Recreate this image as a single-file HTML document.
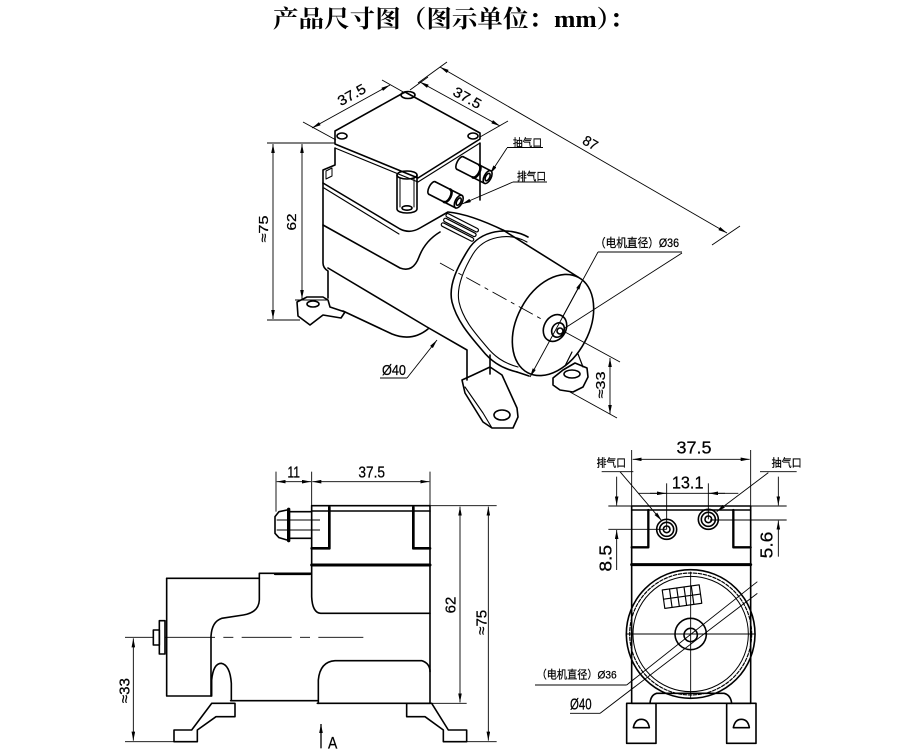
<!DOCTYPE html>
<html><head><meta charset="utf-8">
<style>
html,body{margin:0;padding:0;background:#fff;width:900px;height:754px;overflow:hidden}
svg{display:block}
.o{fill:none;stroke:#000;stroke-width:1.6;stroke-linejoin:round;stroke-linecap:round}
.d{fill:none;stroke:#000;stroke-width:0.9}
.O{fill:none;stroke:#000;stroke-width:4.8;stroke-linejoin:round;stroke-linecap:round}
.D{fill:none;stroke:#000;stroke-width:2.7}
.t{font-family:"Liberation Sans","Noto Sans CJK SC",sans-serif;fill:#000;stroke:#000;stroke-width:0.25}
.T{font-family:"Liberation Sans","Noto Sans CJK SC",sans-serif;fill:#000;stroke:#000;stroke-width:0.75}
</style></head><body>
<svg width="900" height="754" viewBox="0 0 900 754" xmlns="http://www.w3.org/2000/svg">
<defs>
<marker id="m" viewBox="0 0 10 4" refX="10" refY="2" markerWidth="9" markerHeight="3.6" markerUnits="userSpaceOnUse" orient="auto-start-reverse"><path d="M0,0L10,2L0,4z" fill="#000"/></marker>
<marker id="M" viewBox="0 0 10 4" refX="10" refY="2" markerWidth="27" markerHeight="10.8" markerUnits="userSpaceOnUse" orient="auto-start-reverse"><path d="M0,0L10,2L0,4z" fill="#000"/></marker>
</defs>
<rect width="900" height="754" fill="#fff"/>

<!-- Title -->
<text x="273" y="27" font-family="Liberation Serif,'Noto Serif CJK SC',serif" font-weight="bold" font-size="24" textLength="362" lengthAdjust="spacingAndGlyphs">产品尺寸图（图示单位：mm）：</text>

<!-- ================= ISO VIEW ================= -->
<g class="d">
<line x1="303" y1="122" x2="336" y2="140"/>
<line x1="312" y1="128" x2="390" y2="85" marker-start="url(#m)" marker-end="url(#m)"/>
<line x1="382" y1="80" x2="405" y2="93"/>
<line x1="410" y1="90" x2="428" y2="77"/>
<line x1="420" y1="82" x2="500" y2="126" marker-start="url(#m)" marker-end="url(#m)"/>
<line x1="480" y1="137" x2="508" y2="121"/>
<line x1="418" y1="83" x2="447" y2="62"/>
<line x1="440" y1="67" x2="727" y2="233" marker-start="url(#m)" marker-end="url(#m)"/>
<line x1="712" y1="245" x2="740" y2="226"/>
<line x1="267" y1="143" x2="335" y2="143"/>
<line x1="267" y1="320" x2="300" y2="320"/>
<line x1="295" y1="300" x2="327" y2="300"/>
<line x1="273" y1="144" x2="273" y2="319" marker-start="url(#m)" marker-end="url(#m)"/>
<line x1="302" y1="144" x2="302" y2="299" marker-start="url(#m)" marker-end="url(#m)"/>
<line x1="507" y1="147.5" x2="543" y2="147.5"/>
<line x1="507" y1="148" x2="490" y2="174" marker-end="url(#m)"/>
<line x1="513" y1="182" x2="547" y2="182"/>
<line x1="513" y1="182" x2="462" y2="204" marker-end="url(#m)"/>
<line x1="380" y1="378" x2="407" y2="378"/>
<line x1="407" y1="378" x2="437" y2="340" marker-end="url(#m)"/>
<line x1="598" y1="252" x2="682" y2="252"/>
<line x1="598" y1="252" x2="530" y2="377" marker-end="url(#m)"/>
<line x1="562" y1="318" x2="582" y2="281" marker-end="url(#m)"/>
<line x1="565" y1="328" x2="682" y2="253"/>
<line x1="565" y1="332" x2="620" y2="362"/>
<line x1="570" y1="392" x2="617" y2="418"/>
<line x1="610" y1="358" x2="610" y2="414" marker-start="url(#m)" marker-end="url(#m)"/>
<line x1="440" y1="263" x2="545" y2="321" stroke-dasharray="16 5 4 5"/>
</g>

<g class="t">
<text transform="translate(354,99) rotate(-29)" text-anchor="middle" font-size="14" textLength="30" lengthAdjust="spacingAndGlyphs">37.5</text>
<text transform="translate(465,102) rotate(29)" text-anchor="middle" font-size="14" textLength="30" lengthAdjust="spacingAndGlyphs">37.5</text>
<text transform="translate(588,147) rotate(30)" text-anchor="middle" font-size="14" textLength="15" lengthAdjust="spacingAndGlyphs">87</text>
<text transform="translate(268,229) rotate(-90)" text-anchor="middle" font-size="13" textLength="27" lengthAdjust="spacingAndGlyphs">≈75</text>
<text transform="translate(296,222) rotate(-90)" text-anchor="middle" font-size="13" textLength="17" lengthAdjust="spacingAndGlyphs">62</text>
<text transform="translate(605,385) rotate(-90)" text-anchor="middle" font-size="13" textLength="27" lengthAdjust="spacingAndGlyphs">≈33</text>
<text x="513" y="146.5" font-size="11" textLength="29" lengthAdjust="spacingAndGlyphs">抽气口</text>
<text x="517" y="180" font-size="11" textLength="29" lengthAdjust="spacingAndGlyphs">排气口</text>
<text x="595" y="247" font-size="12" textLength="84" lengthAdjust="spacingAndGlyphs">（电机直径）Ø36</text>
<text x="382" y="375" font-size="15" textLength="24" lengthAdjust="spacingAndGlyphs">Ø40</text>
</g>

<g class="o">
<path d="M335,131 L405,92 L480,133 L480,139 L418,178 L335,144 Z"/>
<path d="M335,148 L418,182 L480,143" style="stroke-width:1.1"/>
<ellipse cx="408" cy="95" rx="7" ry="3.5"/>
<ellipse cx="342" cy="136" rx="5" ry="3"/>
<ellipse cx="473" cy="136" rx="5" ry="3"/>
<path d="M335,148 V165 L323,170 V263 Q323,268 328,271 V298"/>
<path d="M326,171 L332,168 L332,176 L326,179 Z" style="stroke-width:1"/>
<path d="M480,143 V200"/>
<path d="M323,183 L400,229 Q410,234 420,228 L448,212 Q470,214 505,231"/>
<path d="M324,188 L399,234" style="stroke-width:1.1"/>
<path d="M397,175 V209 A10,4 0 0 0 417,209 V175"/>
<ellipse cx="407" cy="175" rx="10" ry="4"/>
<path d="M400,178 V207 M414,178 V207" style="stroke-width:1"/>
<ellipse cx="407" cy="208" rx="5" ry="2.2"/>
<path d="M323,225 L400,268 Q413,273 419,257 Q425,241 440,232"/>
<path d="M328,268 L427,327 L467,350 V380"/>
<path d="M343,311 L392,334 Q412,342 428,329"/>
<path d="M490,355 V374"/>
<g transform="translate(447,213) rotate(27)" style="stroke-width:1.2">
<rect x="0" y="0" width="36" height="3.6" rx="1.8"/>
<rect x="0" y="5.2" width="36" height="3.6" rx="1.8"/>
<rect x="0" y="10.4" width="36" height="3.6" rx="1.8"/>
</g>
<g transform="translate(460,163) rotate(27)">
<path d="M0,-7 H31 M0,7 H31"/>
<path d="M0,-7 A3,7 0 0 0 0,7"/>
<ellipse cx="31" cy="0" rx="3.5" ry="7" fill="#fff"/>
<ellipse cx="31" cy="0" rx="2" ry="4"/>
<path d="M18,-7 A3.5,7 0 0 1 18,7" style="stroke-width:2.6"/>
</g>
<g transform="translate(432,188) rotate(27)">
<path d="M0,-7 H30 M0,7 H30"/>
<path d="M0,-7 A3,7 0 0 0 0,7"/>
<ellipse cx="30" cy="0" rx="3.5" ry="7" fill="#fff"/>
<ellipse cx="30" cy="0" rx="2" ry="4"/>
<path d="M17,-7 A3.5,7 0 0 1 17,7" style="stroke-width:2.6"/>
</g>
<path d="M528,237 C508,226 480,230 468,250 C458,266 448,285 452,302 C457,322 472,338 482,350 C490,360 500,368 517,372"/>
<path d="M527,242 C509,232 484,236 473,254 C464,269 456,287 459,302 C463,320 476,334 486,346 C494,356 503,363 518,367" style="stroke-width:1.1"/>
<path d="M503,230 L578,277"/>
<path d="M517,372 L529,376"/>
<ellipse cx="553" cy="325" rx="36" ry="54" transform="rotate(28 553 325)"/>
<ellipse cx="555" cy="328" rx="11" ry="14" transform="rotate(28 555 328)"/>
<ellipse cx="558" cy="330" rx="6" ry="7.5" transform="rotate(28 558 330)"/>
<circle cx="560" cy="331" r="3"/>
<path d="M297,302 L307,297 L323,297 L328,300 L330,307 L345,312 L341,318 L323,315 L310,325 L298,316 Z"/>
<ellipse cx="313" cy="304" rx="6" ry="3"/>
<path d="M462,380 L473,375 L490,367 L502,375 L517,408 L518,417 L513,428 L492,428 L483,422 L465,393 Z"/>
<path d="M465,387 L483,413 L492,428" style="stroke-width:1.1"/>
<ellipse cx="502" cy="415" rx="8" ry="5"/>
<path d="M553,378 L563,370 L575,363 L587,368 L588,377 L583,387 L573,392 L560,390 L553,385 Z"/>
<ellipse cx="572" cy="374" rx="8" ry="4"/>
<path d="M565,366 L572,352 M583,367 L578,354" style="stroke-width:1.2"/>
</g>

<!-- ================= SIDE VIEW ================= -->
<g transform="translate(100,450) scale(0.333333)">
<g class="D">
<line x1="528" y1="65" x2="528" y2="185"/>
<line x1="635" y1="65" x2="635" y2="167"/>
<line x1="990" y1="65" x2="990" y2="167"/>
<line x1="530" y1="95" x2="633" y2="95" marker-start="url(#M)" marker-end="url(#M)"/>
<line x1="637" y1="95" x2="988" y2="95" marker-start="url(#M)" marker-end="url(#M)"/>
<line x1="990" y1="167" x2="1190" y2="167"/>
<line x1="990" y1="760" x2="1100" y2="760"/>
<line x1="1100" y1="875" x2="1190" y2="875"/>
<line x1="1080" y1="170" x2="1080" y2="757" marker-start="url(#M)" marker-end="url(#M)"/>
<line x1="1165" y1="170" x2="1165" y2="872" marker-start="url(#M)" marker-end="url(#M)"/>
<line x1="75" y1="875" x2="222" y2="875"/>
<line x1="75" y1="562" x2="160" y2="562"/>
<line x1="100" y1="565" x2="100" y2="872" marker-start="url(#M)" marker-end="url(#M)"/>
<line x1="195" y1="562" x2="790" y2="562" stroke-dasharray="150 25 30 25"/>
<line x1="663" y1="895" x2="663" y2="822" marker-end="url(#M)" style="stroke-width:4"/>
<line x1="530" y1="210" x2="660" y2="210"/>
<line x1="530" y1="240" x2="660" y2="240"/>
</g>
<g class="T">
<text x="581" y="82" text-anchor="middle" font-size="46" textLength="38" lengthAdjust="spacingAndGlyphs">11</text>
<text x="815" y="82" text-anchor="middle" font-size="46" textLength="80" lengthAdjust="spacingAndGlyphs">37.5</text>
<text transform="translate(1066,465) rotate(-90)" text-anchor="middle" font-size="44" textLength="50" lengthAdjust="spacingAndGlyphs">62</text>
<text transform="translate(1160,517) rotate(-90)" text-anchor="middle" font-size="44" textLength="75" lengthAdjust="spacingAndGlyphs">≈75</text>
<text transform="translate(89,722) rotate(-90)" text-anchor="middle" font-size="44" textLength="75" lengthAdjust="spacingAndGlyphs">≈33</text>
<text x="684" y="895" font-size="50" textLength="28" lengthAdjust="spacingAndGlyphs">A</text>
</g>
<g class="O">
<path d="M635,167 H990 V760 H652"/>
<line x1="635" y1="183" x2="990" y2="183"/>
<path d="M635,167 V440 Q637,488 662,490 H990"/>
<path d="M635,295 H688 V172" style="stroke-width:8"/>
<path d="M990,295 H940 V172" style="stroke-width:8"/>
<line x1="635" y1="345" x2="990" y2="345" style="stroke-width:9"/>
<path d="M566,178 V272" style="stroke-width:10"/>
<path d="M566,185 H635 M566,265 H635"/>
<path d="M561,180 L537,185 L525,200 V250 L537,263 L561,270"/>
<path d="M200,385 H478 V370 H632"/>
<line x1="525" y1="372" x2="630" y2="372" style="stroke-width:7"/>
<path d="M478,385 V450 Q476,488 430,495 L365,505 Q335,515 333,560 V738"/>
<path d="M200,385 V738 H333"/>
<rect x="178" y="512" width="17" height="100"/>
<rect x="160" y="540" width="18" height="45"/>
<path d="M335,738 V690 Q340,640 364,640 Q390,645 394,700 V752"/>
<path d="M392,752 H652"/>
<path d="M655,760 V690 Q660,635 705,632 H965 Q990,640 990,665"/>
<path d="M335,760 H405 V800 H348 L292,840 V875 H222 V840 H275 Z"/>
<path d="M920,760 H995 L1045,840 H1100 V875 H1030 V840 L975,800 H920 Z"/>
</g>
</g>

<!-- ================= FRONT VIEW ================= -->
<g transform="translate(520,430) scale(0.333333)">
<g class="D">
<line x1="335" y1="60" x2="335" y2="228"/>
<line x1="692" y1="60" x2="692" y2="228"/>
<line x1="338" y1="88" x2="689" y2="88" marker-start="url(#M)" marker-end="url(#M)"/>
<line x1="245" y1="125" x2="340" y2="125"/>
<line x1="300" y1="125" x2="425" y2="272" marker-end="url(#M)"/>
<line x1="720" y1="125" x2="830" y2="125"/>
<line x1="745" y1="128" x2="590" y2="245" marker-end="url(#M)"/>
<line x1="440" y1="160" x2="440" y2="298"/>
<line x1="565" y1="160" x2="565" y2="268"/>
<line x1="355" y1="190" x2="655" y2="190"/>
<line x1="390" y1="190" x2="438" y2="190" marker-end="url(#M)"/>
<line x1="615" y1="190" x2="567" y2="190" marker-end="url(#M)"/>
<line x1="265" y1="228" x2="335" y2="228"/>
<line x1="692" y1="228" x2="800" y2="228"/>
<line x1="265" y1="298" x2="440" y2="298"/>
<line x1="570" y1="270" x2="800" y2="270"/>
<line x1="290" y1="140" x2="290" y2="226" marker-end="url(#M)"/>
<line x1="290" y1="420" x2="290" y2="300" marker-end="url(#M)"/>
<line x1="775" y1="140" x2="775" y2="226" marker-end="url(#M)"/>
<line x1="775" y1="380" x2="775" y2="272" marker-end="url(#M)"/>
<line x1="45" y1="765" x2="320" y2="765"/>
<line x1="320" y1="765" x2="712" y2="455"/>
<line x1="150" y1="850" x2="240" y2="850"/>
<line x1="240" y1="850" x2="712" y2="490"/>
<line x1="512" y1="425" x2="512" y2="805"/>
<line x1="318" y1="612" x2="707" y2="612"/>
</g>
<g class="T">
<text x="522" y="70" text-anchor="middle" font-size="54" textLength="105" lengthAdjust="spacingAndGlyphs">37.5</text>
<text x="503" y="175" text-anchor="middle" font-size="54" textLength="95" lengthAdjust="spacingAndGlyphs">13.1</text>
<text x="230" y="110" font-size="33" textLength="88" lengthAdjust="spacingAndGlyphs">排气口</text>
<text x="755" y="110" font-size="33" textLength="90" lengthAdjust="spacingAndGlyphs">抽气口</text>
<text transform="translate(274,385) rotate(-90)" text-anchor="middle" font-size="54" textLength="80" lengthAdjust="spacingAndGlyphs">8.5</text>
<text transform="translate(757,345) rotate(-90)" text-anchor="middle" font-size="54" textLength="80" lengthAdjust="spacingAndGlyphs">5.6</text>
<text x="50" y="746" font-size="34" textLength="240" lengthAdjust="spacingAndGlyphs">（电机直径）Ø36</text>
<text x="150" y="838" font-size="46" textLength="65" lengthAdjust="spacingAndGlyphs">Ø40</text>
</g>
<g class="O">
<rect x="335" y="228" width="357" height="592"/>
<line x1="335" y1="240" x2="692" y2="240"/>
<path d="M335,352 H385 V240" style="stroke-width:7"/>
<path d="M692,352 H640 V240" style="stroke-width:7"/>
<line x1="335" y1="404" x2="692" y2="404" style="stroke-width:9"/>
<circle cx="440" cy="298" r="30"/>
<circle cx="440" cy="298" r="21"/>
<circle cx="440" cy="298" r="10"/>
<circle cx="565" cy="268" r="30"/>
<circle cx="565" cy="268" r="21"/>
<circle cx="565" cy="268" r="10"/>
<circle cx="512" cy="612" r="193"/>
<circle cx="512" cy="612" r="183" stroke-dasharray="10 5" style="stroke-width:3.5"/>
<circle cx="512" cy="612" r="173" style="stroke-width:3"/>
<circle cx="512" cy="612" r="47"/>
<circle cx="512" cy="615" r="20"/>
<g transform="rotate(-8 485 500)" style="stroke-width:3.5">
<rect x="430" y="472" width="112" height="56"/>
<path d="M452,472 V528 M474,472 V528 M496,472 V528 M518,472 V528 M430,500 H542"/>
</g>
<path d="M390,820 Q392,795 410,790 H612 Q632,795 635,820"/>
<rect x="320" y="820" width="88" height="120"/>
<rect x="620" y="820" width="88" height="120"/>
<path d="M340,893 Q345,868 364,868 Q384,868 388,893 Z"/>
<path d="M640,893 Q645,868 664,868 Q684,868 688,893 Z"/>
</g>
</g>
</svg>
</body></html>
